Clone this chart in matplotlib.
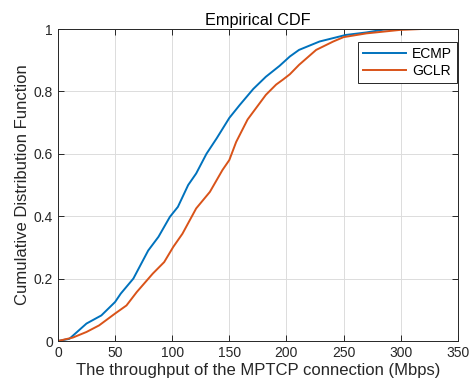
import matplotlib
matplotlib.use("Agg")
import matplotlib.pyplot as plt

plt.rcParams['font.family'] = ['Liberation Sans', 'DejaVu Sans']

ecmp_x = [0, 10, 25, 38, 50, 55, 66, 79, 88, 98, 105, 114, 121, 130, 139, 150, 159,
          171, 182, 194, 203, 211, 229, 252, 270, 285, 298]
ecmp_y = [0, 0.007, 0.056, 0.082, 0.125, 0.152, 0.2, 0.29, 0.334, 0.398, 0.43, 0.5, 0.537,
          0.6, 0.65, 0.715, 0.756, 0.808, 0.847, 0.882, 0.912, 0.933, 0.96, 0.981,
          0.989, 0.998, 1.0]

gclr_x = [0, 13, 25, 36, 50, 60, 69, 83, 93, 101, 109, 121, 133, 144, 150, 156, 166,
          182, 191, 197, 203, 211, 226, 241, 250, 270, 299, 318]
gclr_y = [0, 0.011, 0.029, 0.05, 0.088, 0.114, 0.157, 0.216, 0.253, 0.302, 0.344, 0.425,
          0.478, 0.548, 0.58, 0.638, 0.71, 0.789, 0.822, 0.838, 0.855, 0.885, 0.933, 0.96,
          0.974, 0.986, 0.997, 1.0]

xticks = [0, 50, 100, 150, 200, 250, 300, 350]
yticks = [0, 0.2, 0.4, 0.6, 0.8, 1]
ytick_labels = ['0', '0.2', '0.4', '0.6', '0.8', '1']

fig = plt.figure(figsize=(4.71, 3.90), dpi=100)
ax = fig.add_axes([0.123, 0.1256, 0.849, 0.80])

ax.plot(ecmp_x, ecmp_y, color='#0072BD', lw=1.4, label='ECMP')
ax.plot(gclr_x, gclr_y, color='#D95319', lw=1.4, label='GCLR')

ax.set_xlim(0, 350)
ax.set_ylim(0, 1)
ax.set_xticks(xticks)
ax.set_yticks(yticks)
ax.set_yticklabels(ytick_labels)
ax.grid(True, color='#DCDCDC', lw=0.7)
ax.set_axisbelow(True)
ax.tick_params(direction='in', top=True, right=True, length=4, width=0.7,
               colors='#262626', labelsize=10)
for s in ax.spines.values():
    s.set_color('#262626')
    s.set_linewidth(0.7)

ax.set_xlabel('The throughput of the MPTCP connection (Mbps)', fontsize=12, color='#262626', labelpad=2)
ax.set_ylabel('Cumulative Distribution Function', fontsize=12, color='#262626', labelpad=3)
ax.set_title('Empirical CDF', fontsize=11.7, color='#000000', pad=3)

leg = ax.legend(loc='upper right', fontsize=10, fancybox=False, framealpha=1,
                edgecolor='#262626', handlelength=3.1, handletextpad=0.4,
                borderpad=0.35, labelspacing=0.25, borderaxespad=0,
                bbox_to_anchor=(0.997, 0.959))
leg.get_frame().set_linewidth(0.7)

fig.savefig('out.png', dpi=100)
